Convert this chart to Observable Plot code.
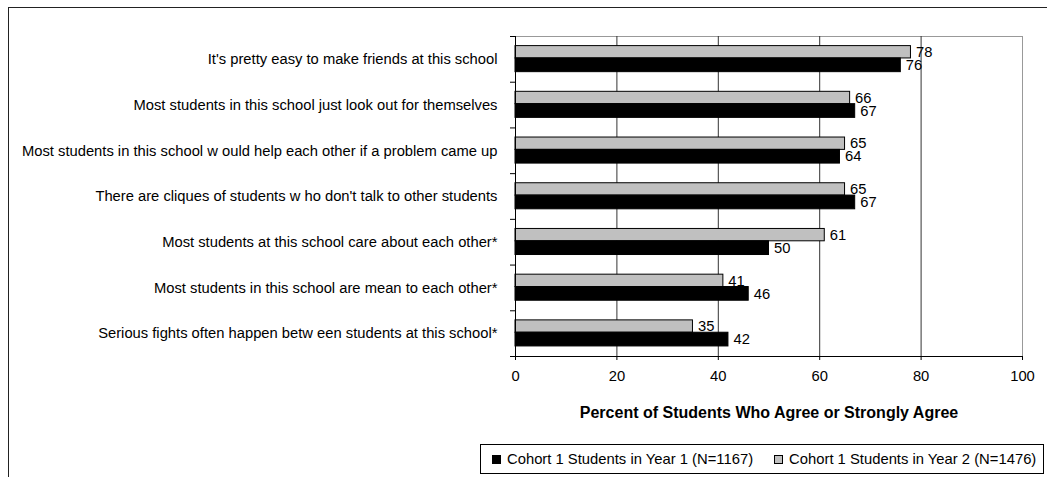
<!DOCTYPE html>
<html>
<head>
<meta charset="utf-8">
<script src="https://cdn.jsdelivr.net/npm/d3@7"></script>
<script src="https://cdn.jsdelivr.net/npm/@observablehq/plot@0.6"></script>
<style>
  html, body { margin: 0; padding: 0; background: #fff; width: 1047px; height: 477px; overflow: hidden; }
  #border { position: absolute; left: 8px; top: 7px; width: 1120px; height: 540px; border: 1px solid #222; box-sizing: border-box; }
  #chart { position: absolute; left: 0; top: 0; }
  #chart svg { overflow: visible; }
  .survey g[aria-label="x-axis label"] text { font-weight: bold; font-size: 16px; }
  #legend {
    position: absolute; left: 480px; top: 444px; width: 564px; height: 30px;
    border: 1px solid #000; box-sizing: border-box; background: #fff;
    display: flex; align-items: center; padding-left: 11px;
    font: 14.8px "Liberation Sans", Arial, sans-serif; color: #000; white-space: nowrap;
  }
  .item { display: flex; align-items: center; }
  .item + .item { margin-left: 21px; }
  .swatch { width: 7px; height: 7px; border: 1px solid #000; margin-right: 6px; }
</style>
</head>
<body>
<div id="border"></div>
<div id="chart"></div>
<div id="legend"></div>
<script>
// Survey statements, top to bottom
const categories = [
  "It's pretty easy to make friends at this school",
  "Most students in this school just look out for themselves",
  "Most students in this school w ould help each other if a problem came up",
  "There are cliques of students w ho don't talk to other students",
  "Most students at this school care about each other*",
  "Most students in this school are mean to each other*",
  "Serious fights often happen betw een students at this school*"
];

// Percent agreeing or strongly agreeing
const year1 = [76, 67, 64, 67, 50, 46, 42];
const year2 = [78, 66, 65, 65, 61, 41, 35];

const seriesNames = [
  "Cohort 1 Students in Year 1 (N=1167)",
  "Cohort 1 Students in Year 2 (N=1476)"
];
const seriesColors = ["#000000", "#c0c0c0"];

const xTicks = [0, 20, 40, 60, 80, 100];
const xTitle = "Percent of Students Who Agree or Strongly Agree";

// Within each statement's row, Year 2 sits above Year 1
const slots = {
  [seriesNames[1]]: [0.21, 0.48],
  [seriesNames[0]]: [0.48, 0.78]
};

const rows = categories.flatMap((category, i) => [
  {category, index: i, series: seriesNames[1], value: year2[i]},
  {category, index: i, series: seriesNames[0], value: year1[i]}
]);

const y1 = d => d.index + slots[d.series][0];
const y2 = d => d.index + slots[d.series][1];
const yMid = d => d.index + (slots[d.series][0] + slots[d.series][1]) / 2;

const labelTicks = categories.map((_, i) => i + 0.5);
const boundaryTicks = d3.range(categories.length + 1);

const chart = Plot.plot({
  className: "survey",
  width: 1047,
  height: 420,
  marginLeft: 515,
  marginRight: 25,
  marginTop: 36,
  marginBottom: 64,
  style: {fontFamily: "'Liberation Sans', Arial, sans-serif", fontSize: "14.75px", color: "#000", background: "transparent"},
  x: {domain: [0, 100]},
  y: {domain: [0, categories.length], reverse: true},
  color: {domain: seriesNames, range: seriesColors},
  marks: [
    // plot area edges and gridlines
    Plot.ruleY([0], {stroke: "#999"}),
    Plot.ruleX([100], {stroke: "#999"}),
    Plot.ruleX(xTicks.filter(t => t > 0 && t < 100), {stroke: "#333"}),
    // bars
    Plot.rect(rows, {x1: 0, x2: "value", y1, y2, fill: "series", stroke: "#000", strokeWidth: 1}),
    // value labels
    Plot.text(rows, {x: "value", y: yMid, text: d => String(d.value), dx: 5, textAnchor: "start", fontSize: 14.75, fill: "#000"}),
    // axes
    Plot.ruleX([0], {stroke: "#000"}),
    Plot.ruleY([categories.length], {stroke: "#000"}),
    Plot.axisY({ticks: boundaryTicks, tickSize: 5, tickFormat: () => "", stroke: "#000", label: null}),
    Plot.axisY({ticks: labelTicks, tickSize: 0, tickPadding: 18, tickFormat: t => categories[Math.round(t - 0.5)], label: null, fill: "#000"}),
    Plot.axisX({ticks: xTicks, tickSize: 4, tickPadding: 10, stroke: "#000", fill: "#000",
      label: xTitle, labelAnchor: "center", labelArrow: "none"})
  ]
});
document.getElementById("chart").appendChild(chart);

// legend below the chart
const legend = d3.select("#legend");
seriesNames.forEach((name, i) => {
  const item = legend.append("div").attr("class", "item");
  item.append("div").attr("class", "swatch").style("background", seriesColors[i]);
  item.append("span").text(name);
});
</script>
</body>
</html>
